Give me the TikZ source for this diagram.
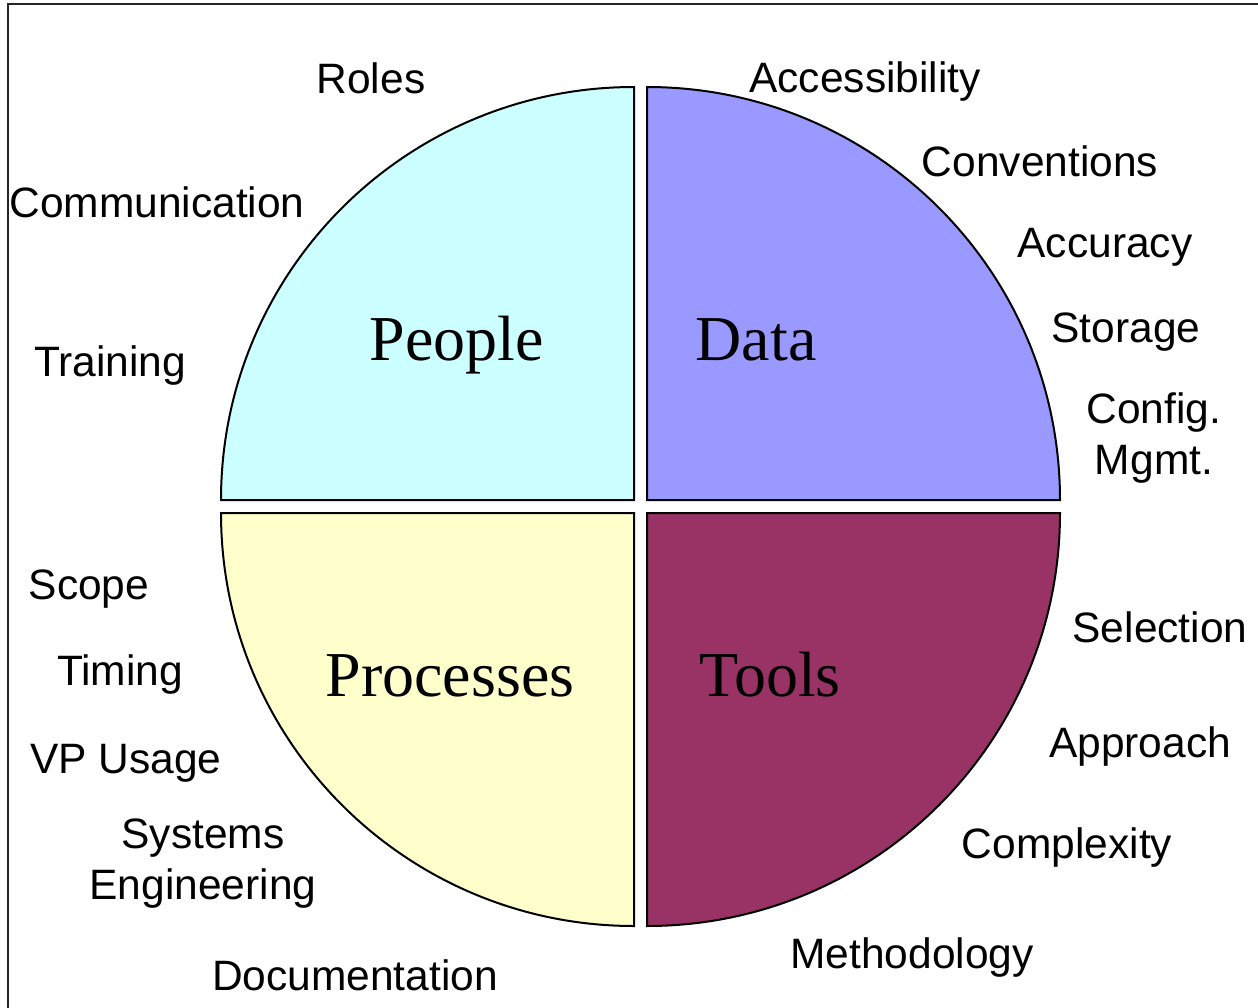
\documentclass[tikz,border=0pt]{standalone}
\usepackage{fontspec}
\setmainfont{Liberation Sans}
\newfontfamily\serifbig{Liberation Serif}
\definecolor{peoplec}{HTML}{CCFFFF}
\definecolor{datac}{HTML}{9999FF}
\definecolor{procc}{HTML}{FFFFCC}
\definecolor{toolsc}{HTML}{993366}
\begin{document}
\begin{tikzpicture}[x=1pt,y=1pt,
  quad/.style={draw=black,line width=2pt,line join=miter},
  lbl/.style={inner sep=0pt,anchor=base,font=\fontsize{42.5}{51}\selectfont,align=center},
  big/.style={inner sep=0pt,anchor=base,font=\fontsize{64}{70}\serifbig}]
\useasboundingbox (0,0) rectangle (1258,-1007);
\fill[white] (0,0) rectangle (1258,-1007);
% frame
\draw[line width=2pt,draw=black!85] (8,-1010) -- (8,-4) -- (1262,-4);
% quadrants
\draw[quad,fill=peoplec] (634,-500) -- (221,-500) arc[start angle=180,end angle=90,radius=413] -- cycle;
\draw[quad,fill=datac] (647,-500) -- (647,-87) arc[start angle=90,end angle=0,radius=413] -- cycle;
\draw[quad,fill=procc] (634,-513) -- (634,-926) arc[start angle=270,end angle=180,radius=413] -- cycle;
\draw[quad,fill=toolsc] (647,-513) -- (1060,-513) arc[start angle=0,end angle=-90,radius=413] -- cycle;
% big labels
\node[big] (people) at (457,-360) {People};
\node[big] (data) at (756,-360) {Data};
\node[big] (proc) at (450,-696) {Processes};
\node[big] (tools) at (770,-696) {Tools};
% people
\node[lbl] (roles) at (371,-93) {Roles};
\node[lbl] (comm) at (157,-217) {Communication};
\node[lbl] (train) at (110,-376) {Training};
% data
\node[lbl] (access) at (865,-92) {Accessibility};
\node[lbl] (conv) at (1040,-176) {Conventions};
\node[lbl] (accur) at (1105,-257) {Accuracy};
\node[lbl] (stor) at (1126,-342) {Storage};
\node[lbl] (config) at (1154,-474) {Config.\\Mgmt.};
% processes
\node[lbl] (scope) at (89,-599) {Scope};
\node[lbl] (timing) at (120,-685) {Timing};
\node[lbl] (vp) at (126,-773) {VP Usage};
\node[lbl] (syseng) at (203,-899) {Systems\\Engineering};
\node[lbl] (doc) at (355,-990) {Documentation};
% tools
\node[lbl] (sel) at (1160,-642) {Selection};
\node[lbl] (appr) at (1140,-757) {Approach};
\node[lbl] (compl) at (1067,-858) {Complexity};
\node[lbl] (meth) at (912,-968) {Methodology};
\end{tikzpicture}
\end{document}
